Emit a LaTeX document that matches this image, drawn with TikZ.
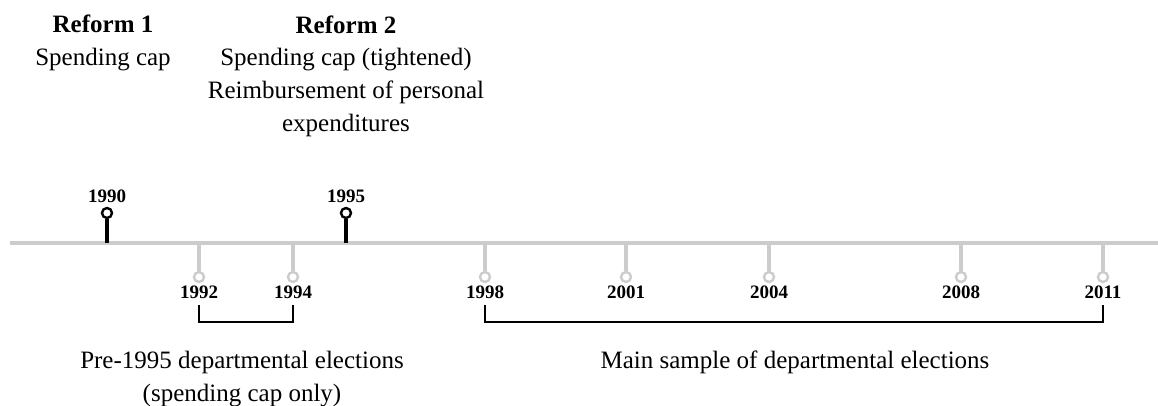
\documentclass[tikz,border=0pt]{standalone}
\usepackage{fontspec}
\setmainfont{Liberation Serif}
\usetikzlibrary{positioning}
\definecolor{axisgray}{RGB}{204,204,204}
\tikzset{
  reformpin/.style={circle,draw=black,line width=1.2pt,fill=white,inner sep=0pt,minimum size=5pt},
  electpin/.style={circle,draw=axisgray,line width=1.2pt,fill=white,inner sep=0pt,minimum size=5pt},
  yearlabel/.style={font=\bfseries\fontsize{9.5}{11}\selectfont,inner sep=0.5pt},
  bodytext/.style={font=\fontsize{12.5}{16.4}\selectfont,align=center,inner sep=0pt}
}
\begin{document}
\begin{tikzpicture}[x=0.5pt,y=-0.5pt,line cap=butt,line join=miter]
  \useasboundingbox (0,0) rectangle (1158,406);
  % axis
  \coordinate (axL) at (10,243);
  \coordinate (axR) at (1158,243);
  \draw[axisgray,line width=1.6pt] (axL) -- (axR);
  % reforms (above the axis)
  \coordinate (a1990) at (107,243);
  \coordinate (a1995) at (346,243);
  \node[reformpin] (p1990) at (107,213) {};
  \node[reformpin] (p1995) at (346,213) {};
  \draw[black,line width=1.6pt] (a1990) -- (p1990);
  \draw[black,line width=1.6pt] (a1995) -- (p1995);
  \node[yearlabel,above=1.2pt of p1990] (y1990) {1990};
  \node[yearlabel,above=1.2pt of p1995] (y1995) {1995};
  % elections (below the axis)
  \foreach \yr/\xp in {1992/199,1994/293,1998/485,2001/626,2004/769,2008/961,2011/1103}{
    \coordinate (a\yr) at (\xp,243);
    \node[electpin] (p\yr) at (\xp,277) {};
    \draw[axisgray,line width=1.6pt] (a\yr) -- (p\yr);
    \node[yearlabel,below=0.8pt of p\yr] (y\yr) {\yr};
  }
  % brackets
  \coordinate (b1992) at (199,305);
  \coordinate (b1994) at (293,305);
  \coordinate (b1998) at (485,305);
  \coordinate (b2011) at (1103,305);
  \draw[black,line width=1.4pt] (b1992) -- ++(0,17) -| (b1994);
  \draw[black,line width=1.4pt] (b1998) -- ++(0,17) -| (b2011);
  % texts
  \node[bodytext,anchor=north] (reform1) at (103,15) {\textbf{Reform 1}\\Spending cap};
  \node[bodytext,anchor=north] (reform2) at (346,15) {\textbf{Reform 2}\\Spending cap (tightened)\\Reimbursement of personal\\expenditures};
  \node[bodytext] (pre1995) at (242,379) {Pre-1995 departmental elections\\(spending cap only)};
  \node[bodytext] (mainsample) at (795,362) {Main sample of departmental elections};
\end{tikzpicture}
\end{document}
